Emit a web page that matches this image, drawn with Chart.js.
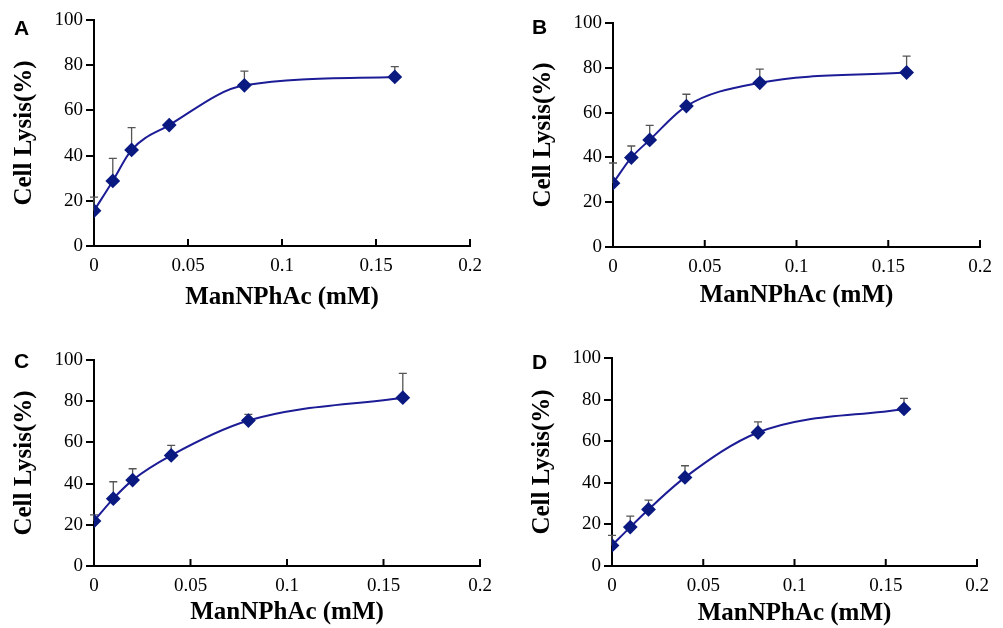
<!DOCTYPE html>
<html>
<head>
<meta charset="utf-8">
<script src="https://cdn.jsdelivr.net/npm/chart.js@4"></script>
<style>
  body { margin: 0; background: #fff; }
  #wrap { position: relative; width: 1003px; height: 628px; }
  .panel { position: absolute; }
  .letter { position: absolute; font: bold 21px "Liberation Sans", Arial, sans-serif; color: #000; }
</style>
</head>
<body>
<div id="wrap">
  <div class="panel" style="left:0;top:0;width:500px;height:310px"><canvas id="cA"></canvas></div>
  <div class="panel" style="left:500px;top:0;width:503px;height:310px"><canvas id="cB"></canvas></div>
  <div class="panel" style="left:0;top:310px;width:500px;height:318px"><canvas id="cC"></canvas></div>
  <div class="panel" style="left:500px;top:310px;width:503px;height:318px"><canvas id="cD"></canvas></div>
  <div class="letter" style="left:14px;top:16px">A</div>
  <div class="letter" style="left:532px;top:15px">B</div>
  <div class="letter" style="left:14px;top:349px">C</div>
  <div class="letter" style="left:532px;top:350px">D</div>
</div>
<script>
// ManNPhAc concentrations (mM)
const doses = [0, 0.01, 0.02, 0.04, 0.08, 0.16];

const lysisA = [15.6, 28.8, 42.5, 53.5, 71.1, 74.8];
const errA   = [6.0, 10.0, 9.9, 1.0, 6.3, 4.6];
const lysisB = [28.5, 39.9, 47.8, 62.9, 73.3, 77.9];
const errB   = [9.0, 5.2, 6.5, 5.3, 6.1, 7.3];
const lysisC = [21.8, 32.7, 41.7, 53.7, 70.6, 81.7];
const errC   = [3.0, 8.2, 5.5, 4.9, 3.0, 11.8];
const lysisD = [9.9, 18.7, 27.2, 42.6, 64.2, 75.5];
const errD   = [4.8, 5.3, 4.5, 5.6, 5.1, 5.1];

const xTicks = [0, 0.05, 0.1, 0.15, 0.2];
const yTicks = [0, 20, 40, 60, 80, 100];

// up-only error bars with a cap
const errorBars = {
  id: 'errorBars',
  beforeDatasetsDraw(chart) {
    const errs = chart.options.plugins.errorBars.errs;
    const x = chart.scales.x, y = chart.scales.y, ctx = chart.ctx;
    const data = chart.data.datasets[0].data;
    ctx.save();
    ctx.strokeStyle = '#555';
    ctx.lineWidth = 1.3;
    data.forEach((p, i) => {
      const px = x.getPixelForValue(p.x);
      const py = y.getPixelForValue(p.y);
      const pt = y.getPixelForValue(p.y + errs[i]);
      ctx.beginPath();
      ctx.moveTo(px, py);
      ctx.lineTo(px, pt);
      ctx.moveTo(px - 4, pt);
      ctx.lineTo(px + 4, pt);
      ctx.stroke();
    });
    ctx.restore();
  }
};

// inward tick marks on the x axis
const innerTicks = {
  id: 'innerTicks',
  afterDraw(chart) {
    const x = chart.scales.x, ctx = chart.ctx;
    const bottom = chart.chartArea.bottom;
    ctx.save();
    ctx.strokeStyle = '#000';
    ctx.lineWidth = 2;
    x.ticks.forEach(t => {
      const px = x.getPixelForValue(t.value);
      if (px <= chart.chartArea.left + 1) return;
      ctx.beginPath();
      ctx.moveTo(px, bottom);
      ctx.lineTo(px, bottom - 7);
      ctx.stroke();
    });
    ctx.restore();
  }
};

function makeChart(id, vals, errs, box) {
  const tickFont = { family: '"Liberation Serif", "Times New Roman", serif', size: 19 };
  const titleFont = { family: '"Liberation Serif", "Times New Roman", serif', size: 25, weight: 'bold', lineHeight: 1 };
  return new Chart(document.getElementById(id), {
    type: 'line',
    data: {
      datasets: [{
        data: doses.map((d, i) => ({ x: d, y: vals[i] })),
        borderColor: '#1c1c96',
        borderWidth: 2,
        tension: 0.35,
        cubicInterpolationMode: 'monotone',
        pointStyle: 'rectRot',
        pointRadius: 6,
        pointBackgroundColor: '#0b1a80',
        pointBorderColor: '#0b1a80',
        fill: false
      }]
    },
    options: {
      responsive: true,
      maintainAspectRatio: false,
      animation: false,
      layout: { padding: { left: box.left - 94, top: box.top, right: box.right, bottom: box.pb } },
      plugins: {
        legend: { display: false },
        tooltip: { enabled: false },
        errorBars: { errs: errs }
      },
      scales: {
        x: {
          type: 'linear',
          min: 0, max: 0.2,
          afterBuildTicks: s => { s.ticks = xTicks.map(v => ({ value: v })); },
          afterFit: s => { s.height = box.xh - box.pb; },
          border: { color: '#000', width: 2 },
          grid: { drawOnChartArea: false, color: 'rgba(0,0,0,0)', tickLength: 8 },
          ticks: { color: '#000', font: tickFont, padding: 1, maxRotation: 0,
                   callback: v => String(v) },
          title: { display: true, text: 'ManNPhAc (mM)', color: '#000', font: titleFont,
                   padding: { top: 0, bottom: 0 } }
        },
        y: {
          min: 0, max: 100,
          afterBuildTicks: s => { s.ticks = yTicks.map(v => ({ value: v })); },
          afterFit: s => { s.width = 94; },
          border: { color: '#000', width: 2 },
          grid: { drawOnChartArea: false, color: '#000', lineWidth: 2, tickLength: 8 },
          ticks: { color: '#000', font: tickFont, padding: 3 },
          title: { display: true, text: 'Cell Lysis(%)', color: '#000', font: titleFont,
                   padding: { top: 12, bottom: 0 } }
        }
      }
    },
    plugins: [errorBars, innerTicks]
  });
}

// box: plot-area left/top, right gap, x axis height, bottom padding
makeChart('cA', lysisA, errA, { left: 94, top: 20, right: 30, xh: 64, pb: 0 });
makeChart('cB', lysisB, errB, { left: 113, top: 23, right: 23, xh: 63, pb: 2 });
makeChart('cC', lysisC, errC, { left: 94, top: 50, right: 20, xh: 62, pb: 3 });
makeChart('cD', lysisD, errD, { left: 112, top: 48, right: 26, xh: 62, pb: 2 });
</script>
</body>
</html>
